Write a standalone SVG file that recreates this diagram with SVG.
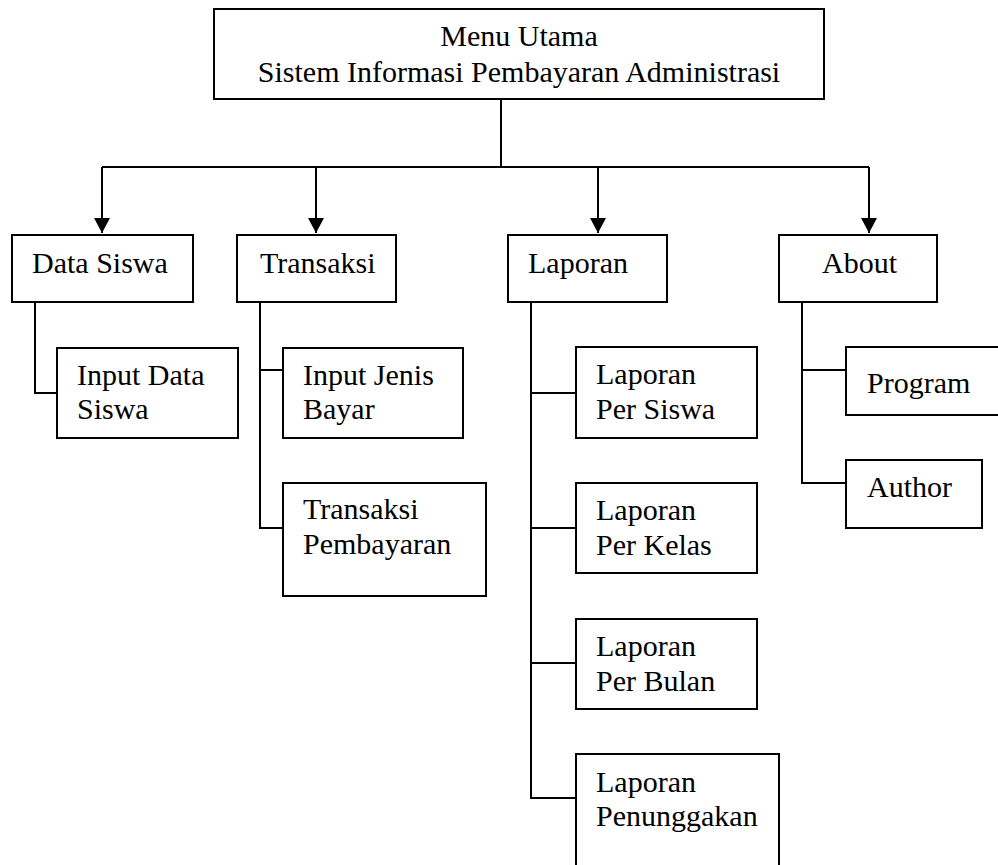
<svg xmlns="http://www.w3.org/2000/svg" width="998" height="865" viewBox="0 0 998 865">
  <style>
    .box { fill: #fff; stroke: #000; stroke-width: 2; }
    .wire { fill: none; stroke: #000; stroke-width: 2; }
    text { font-family: "Liberation Serif", "Times New Roman", serif; font-size: 30px; fill: #000; }
  </style>
  <defs>
    <marker id="arrow" markerUnits="userSpaceOnUse" markerWidth="16" markerHeight="16" viewBox="0 0 16 16" refX="15" refY="8" orient="auto">
      <path d="M0,0 L15,8 L0,16 Z" fill="#000"/>
    </marker>
  </defs>
  <rect width="998" height="865" fill="#fff"/>

  <!-- connectors -->
  <g id="connectors">
    <path class="wire" d="M501,99 V167 M102,167 H869"/>
    <path class="wire" d="M102,167 V233" marker-end="url(#arrow)"/>
    <path class="wire" d="M316,167 V233" marker-end="url(#arrow)"/>
    <path class="wire" d="M598,167 V233" marker-end="url(#arrow)"/>
    <path class="wire" d="M869,167 V233" marker-end="url(#arrow)"/>
    <!-- Data Siswa branch -->
    <path class="wire" d="M35,302 V393 H57"/>
    <!-- Transaksi branch -->
    <path class="wire" d="M260,302 V528 H283 M260,370 H283"/>
    <!-- Laporan branch -->
    <path class="wire" d="M531,302 V798 H576 M531,393 H576 M531,528 H576 M531,663 H576"/>
    <!-- About branch -->
    <path class="wire" d="M802,302 V483 H846 M802,370 H846"/>
  </g>

  <g id="menu-utama">
    <rect class="box" x="214" y="9" width="610" height="90"/>
    <text x="519" y="46" text-anchor="middle">Menu Utama</text>
    <text x="519" y="82" text-anchor="middle">Sistem Informasi Pembayaran Administrasi</text>
  </g>

  <g id="data-siswa">
    <rect class="box" x="12" y="235" width="181" height="67"/>
    <text x="32" y="273">Data Siswa</text>
  </g>
  <g id="transaksi">
    <rect class="box" x="237" y="235" width="159" height="67"/>
    <text x="260" y="273">Transaksi</text>
  </g>
  <g id="laporan">
    <rect class="box" x="508" y="235" width="159" height="67"/>
    <text x="528" y="273">Laporan</text>
  </g>
  <g id="about">
    <rect class="box" x="779" y="235" width="158" height="67"/>
    <text x="822" y="273">About</text>
  </g>

  <g id="input-data-siswa">
    <rect class="box" x="57" y="348" width="181" height="90"/>
    <text x="77" y="385">Input Data</text>
    <text x="77" y="419">Siswa</text>
  </g>
  <g id="input-jenis-bayar">
    <rect class="box" x="283" y="348" width="180" height="90"/>
    <text x="303" y="385">Input Jenis</text>
    <text x="303" y="419">Bayar</text>
  </g>
  <g id="transaksi-pembayaran">
    <rect class="box" x="283" y="483" width="203" height="113"/>
    <text x="303" y="519">Transaksi</text>
    <text x="303" y="554">Pembayaran</text>
  </g>

  <g id="laporan-per-siswa">
    <rect class="box" x="576" y="347" width="181" height="91"/>
    <text x="596" y="384">Laporan</text>
    <text x="596" y="419">Per Siswa</text>
  </g>
  <g id="laporan-per-kelas">
    <rect class="box" x="576" y="483" width="181" height="90"/>
    <text x="596" y="520">Laporan</text>
    <text x="596" y="555">Per Kelas</text>
  </g>
  <g id="laporan-per-bulan">
    <rect class="box" x="576" y="619" width="181" height="90"/>
    <text x="596" y="656">Laporan</text>
    <text x="596" y="691">Per Bulan</text>
  </g>
  <g id="laporan-penunggakan">
    <rect class="box" x="576" y="754" width="203" height="120"/>
    <text x="596" y="792">Laporan</text>
    <text x="596" y="826">Penunggakan</text>
  </g>

  <g id="program">
    <rect class="box" x="846" y="347" width="160" height="68"/>
    <text x="867" y="393">Program</text>
  </g>
  <g id="author">
    <rect class="box" x="846" y="460" width="136" height="68"/>
    <text x="867" y="497">Author</text>
  </g>
</svg>
